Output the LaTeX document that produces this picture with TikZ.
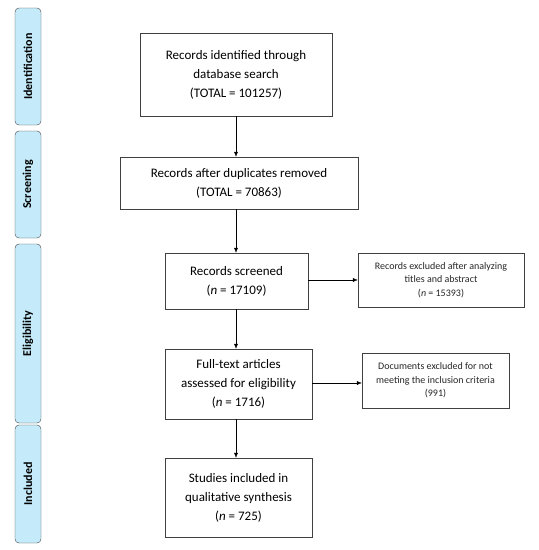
\documentclass[tikz,border=0pt]{standalone}
\usepackage{fontspec}
\setmainfont{Carlito}
\usetikzlibrary{positioning, arrows.meta}
\definecolor{phasefill}{RGB}{197,235,250}
\definecolor{boxline}{RGB}{64,64,64}
\tikzset{
x=1pt, y=-1pt, % one unit is one pixel of the reference
flow/.style={-{Latex[length=5pt,width=4pt]}, black}, % connectors between the boxes
record/.style={draw=boxline, align=center, inner sep=2pt, font=\fontsize{13}{19}\selectfont}, % main boxes
excluded/.style={draw=boxline, align=center, inner sep=2pt, text=black!85, font=\fontsize{10}{13.5}\selectfont}, % boxes on the right
phase/.style={draw=boxline, fill=phasefill, rounded corners=4pt, minimum width=26pt}, % stage bars on the left
phasetext/.style={rotate=90, font=\fontsize{12}{14}\selectfont\bfseries}, % their labels
}
\begin{document}
\begin{tikzpicture}
\useasboundingbox (0,0) rectangle (539,550);

% stage bars
\node[phase, minimum height=117pt] (ident) at (28,66.5) {};
\node[phasetext] at (ident) {Identification};
\node[phase, minimum height=107pt] (screen) at (28,184.5) {};
\node[phasetext] at (screen) {Screening};
\node[phase, minimum height=179pt] (elig) at (28,333.5) {};
\node[phasetext] at (elig) {Eligibility};
\node[phase, minimum height=118pt] (incl) at (28,484) {};
\node[phasetext] at (incl) {Included};

% main flow
\node[record, minimum width=192pt, minimum height=83pt] (found) at (236,74.5) {Records identified through\\database search\\(TOTAL = 101257)};
\node[record, minimum width=238pt, minimum height=52pt] (dedup) at (239,183) {Records after duplicates removed\\(TOTAL = 70863)};
\node[record, minimum width=143pt, minimum height=56pt] (screened) at (236.5,281) {Records screened\\(\textit{n} = 17109)};
\node[record, minimum width=147pt, minimum height=70pt] (fulltext) at (238.5,384) {Full-text articles\\assessed for eligibility\\(\textit{n} = 1716)};
\node[record, minimum width=147pt, minimum height=79pt] (studies) at (238.5,497.5) {Studies included in\\qualitative synthesis\\(\textit{n} = 725)};

% exclusions
\node[excluded, minimum width=166pt, minimum height=54pt] (excl1) at (441,280) {Records excluded after analyzing\\titles and abstract\\(\textit{n} = 15393)};
\node[excluded, minimum width=147pt, minimum height=55pt] (excl2) at (435.5,380.5) {Documents excluded for not\\meeting the inclusion criteria\\(991)};

\draw[flow] (found.south -| 236,0) -- (dedup.north -| 236,0);
\draw[flow] (dedup.south -| 236,0) -- (screened.north -| 236,0);
\draw[flow] (screened.south -| 236,0) -- (fulltext.north -| 236,0);
\draw[flow] (fulltext.south -| 236,0) -- (studies.north -| 236,0);

\draw[flow] (screened.east |- excl1.west) -- (excl1.west);
\draw[flow] (fulltext.east |- 0,383) -- (excl2.west |- 0,383);
\end{tikzpicture}
\end{document}
